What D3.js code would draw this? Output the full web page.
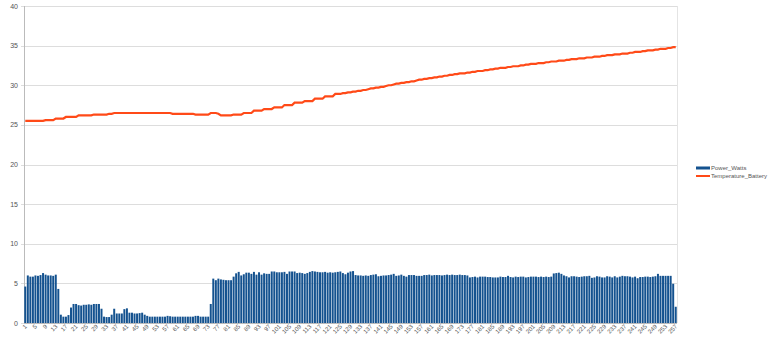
<!doctype html>
<html>
<head>
    <style>
        body {
            margin: 0;
            background: white;
        }

        text {
            font-family: "Liberation Sans", "DejaVu Sans", sans-serif;
            fill: #555;
        }

        .grid line {
            stroke: #ddd;
            shape-rendering: crispEdges;
        }

        .line {
            fill: none;
            stroke: #ff4a18;
            stroke-width: 2.2;
        }
    </style>
    <script src="https://d3js.org/d3.v7.min.js"></script>
</head>
<body>
<script>
    const seriesNames = ['Power_Watts', 'Temperature_Battery']

    const power = [
        4.6, 6.0, 5.85, 5.85, 6.0, 5.95, 6.05, 6.3, 6.1, 6.0,
        6.0, 5.95, 6.1, 4.3, 1.05, 0.8, 0.8, 1.0, 1.95, 2.4,
        2.4, 2.25, 2.2, 2.3, 2.3, 2.35, 2.3, 2.4, 2.4, 2.4,
        1.8, 0.8, 0.75, 0.75, 1.05, 1.8, 1.2, 1.2, 1.2, 1.75,
        1.85, 1.3, 1.3, 1.2, 1.2, 1.25, 1.3, 1.05, 0.9, 0.8,
        0.8, 0.8, 0.8, 0.8, 0.8, 0.8, 0.9, 0.85, 0.8, 0.8,
        0.8, 0.8, 0.8, 0.8, 0.8, 0.8, 0.8, 0.9, 0.9, 0.8,
        0.8, 0.8, 0.8, 2.4, 5.6, 5.4, 5.6, 5.5, 5.45, 5.4,
        5.4, 5.4, 5.85, 6.27, 6.45, 6.0, 6.15, 6.35, 6.35, 6.2,
        6.45, 6.1, 6.4, 6.1, 6.27, 6.2, 6.2, 6.5, 6.5, 6.4,
        6.4, 6.4, 6.45, 6.2, 6.5, 6.5, 6.5, 6.3, 6.35, 6.3,
        6.2, 6.3, 6.45, 6.55, 6.5, 6.45, 6.4, 6.4, 6.45, 6.35,
        6.4, 6.35, 6.4, 6.45, 6.5, 6.3, 6.15, 6.35, 6.5, 6.55,
        6.05, 6.0, 6.0, 5.95, 6.0, 5.95, 6.05, 6.1, 6.15, 5.9,
        5.95, 6.0, 6.0, 6.05, 6.1, 6.2, 5.95, 6.0, 6.1, 5.95,
        5.85, 6.05, 6.05, 6.05, 5.95, 5.95, 5.95, 6.05, 6.05, 6.1,
        6.0, 6.05, 6.05, 6.05, 6.0, 6.05, 6.1, 6.05, 6.1, 6.05,
        6.05, 6.1, 6.05, 6.05, 6.0, 5.75, 5.8, 5.85, 5.75, 5.85,
        5.85, 5.85, 5.8, 5.8, 5.75, 5.75, 5.75, 5.85, 5.8, 5.8,
        5.95, 5.8, 5.75, 5.85, 5.8, 5.85, 5.85, 5.75, 5.8, 5.85,
        5.85, 5.85, 5.8, 5.85, 5.8, 5.85, 5.8, 5.85, 6.25, 6.3,
        6.35, 6.2, 6.0, 5.9, 5.75, 5.9, 5.9, 5.85, 5.8, 5.85,
        5.9, 5.9, 5.95, 5.7, 5.75, 5.9, 5.85, 5.75, 5.75, 5.9,
        5.85, 5.75, 5.9, 5.75, 5.85, 5.95, 5.9, 5.9, 5.85, 5.75,
        5.85, 5.65, 5.8, 5.8, 5.85, 5.85, 5.8, 5.85, 5.9, 6.2,
        5.95, 5.95, 5.95, 5.95, 5.95, 4.95, 2.05
    ]

    const temperature = [
        25.5, 25.5, 25.5, 25.5, 25.5, 25.5, 25.5, 25.5, 25.6, 25.6,
        25.6, 25.6, 25.8, 25.8, 25.8, 25.8, 26.0, 26.0, 26.0, 26.0,
        26.0, 26.2, 26.2, 26.2, 26.2, 26.2, 26.2, 26.3, 26.3, 26.3,
        26.3, 26.3, 26.3, 26.4, 26.4, 26.5, 26.5, 26.5, 26.5, 26.5,
        26.5, 26.5, 26.5, 26.5, 26.5, 26.5, 26.5, 26.5, 26.5, 26.5,
        26.5, 26.5, 26.5, 26.5, 26.5, 26.5, 26.5, 26.5, 26.4, 26.4,
        26.4, 26.4, 26.4, 26.4, 26.4, 26.4, 26.4, 26.3, 26.3, 26.3,
        26.3, 26.3, 26.3, 26.5, 26.5, 26.5, 26.4, 26.2, 26.2, 26.2,
        26.2, 26.2, 26.3, 26.3, 26.3, 26.3, 26.5, 26.5, 26.5, 26.5,
        26.8, 26.8, 26.8, 26.8, 27.0, 27.0, 27.0, 27.0, 27.2, 27.2,
        27.2, 27.2, 27.5, 27.5, 27.5, 27.5, 27.8, 27.8, 27.8, 27.8,
        28.0, 28.0, 28.0, 28.0, 28.3, 28.3, 28.3, 28.3, 28.6, 28.6,
        28.6, 28.6, 28.9, 28.9, 28.9, 29.0, 29.0, 29.1, 29.1, 29.2,
        29.2, 29.3, 29.3, 29.4, 29.4, 29.5, 29.6, 29.6, 29.7, 29.7,
        29.8, 29.8, 29.9, 30.0, 30.0, 30.1, 30.2, 30.2, 30.3, 30.3,
        30.4, 30.4, 30.5, 30.5, 30.6, 30.7, 30.7, 30.8, 30.8, 30.9,
        30.9, 31.0, 31.0, 31.1, 31.1, 31.2, 31.2, 31.3, 31.3, 31.4,
        31.4, 31.5, 31.5, 31.5, 31.6, 31.6, 31.7, 31.7, 31.8, 31.8,
        31.8, 31.9, 31.9, 32.0, 32.0, 32.1, 32.1, 32.2, 32.2, 32.2,
        32.3, 32.3, 32.4, 32.4, 32.4, 32.5, 32.5, 32.6, 32.6, 32.7,
        32.7, 32.7, 32.8, 32.8, 32.8, 32.9, 32.9, 33.0, 33.0, 33.0,
        33.1, 33.1, 33.1, 33.2, 33.2, 33.3, 33.3, 33.3, 33.4, 33.4,
        33.4, 33.5, 33.5, 33.5, 33.6, 33.6, 33.6, 33.7, 33.7, 33.8,
        33.8, 33.8, 33.9, 33.9, 33.9, 34.0, 34.0, 34.0, 34.1, 34.1,
        34.2, 34.2, 34.2, 34.3, 34.3, 34.4, 34.4, 34.4, 34.5, 34.5,
        34.6, 34.6, 34.6, 34.7, 34.7, 34.8, 34.8
    ]

    // categories are just the sample index 1..n
    const categories = power.map((d, i) => i + 1)
    const yTicks = [0, 5, 10, 15, 20, 25, 30, 35, 40]

    const W = 768, H = 339
    const m = {left: 24, right: 91, top: 6, bottom: 16}

    const svg = d3.select('body').append('svg')
        .attr('width', W)
        .attr('height', H)

    const x = d3.scaleBand()
        .domain(categories)
        .range([m.left, W - m.right])
        .paddingInner(0.22)
        .paddingOuter(0.11)

    const y = d3.scaleLinear()
        .domain([0, 40])
        .range([H - m.bottom, m.top])

    // grid
    svg.append('g').attr('class', 'grid')
        .selectAll('line').data(yTicks).enter()
        .append('line')
        .attr('x1', m.left - 3)
        .attr('x2', W - m.right)
        .attr('y1', d => Math.round(y(d)) + 0.5)
        .attr('y2', d => Math.round(y(d)) + 0.5)

    // frame left / right
    svg.append('line')
        .attr('x1', m.left + 0.5).attr('x2', m.left + 0.5)
        .attr('y1', m.top).attr('y2', H - m.bottom)
        .style('stroke', '#bbb')
    svg.append('line')
        .attr('x1', W - m.right + 0.5).attr('x2', W - m.right + 0.5)
        .attr('y1', m.top).attr('y2', H - m.bottom)
        .style('stroke', '#e4e4e4')

    // y labels
    svg.append('g')
        .selectAll('text').data(yTicks).enter()
        .append('text')
        .attr('x', m.left - 6)
        .attr('y', d => y(d) + 2.5)
        .attr('text-anchor', 'end')
        .style('font-size', '7px')
        .text(d => d)

    // bars
    svg.append('g')
        .selectAll('rect').data(power).enter()
        .append('rect')
        .attr('x', (d, i) => x(categories[i]))
        .attr('width', x.bandwidth())
        .attr('y', d => y(d))
        .attr('height', d => y(0) - y(d))
        .attr('fill', '#14528f')

    // baseline
    svg.append('line')
        .attr('x1', m.left).attr('x2', W - m.right)
        .attr('y1', Math.round(y(0)) + 0.5).attr('y2', Math.round(y(0)) + 0.5)
        .style('stroke', '#bbb')

    // temperature line
    const line = d3.line()
        .x((d, i) => x(categories[i]) + x.bandwidth() / 2)
        .y(d => y(d))

    svg.append('path')
        .datum(temperature)
        .attr('class', 'line')
        .attr('d', line)

    // x labels, every 4th
    svg.append('g')
        .selectAll('text').data(categories.filter((c, i) => i % 4 === 0)).enter()
        .append('text')
        .attr('transform', d => `translate(${x(d) + x.bandwidth() / 2 + 2},${H - m.bottom + 4}) rotate(-45)`)
        .attr('text-anchor', 'end')
        .style('font-size', '6px')
        .text(d => d)

    // legend
    const lg = svg.append('g').attr('transform', 'translate(696,168)')
    lg.append('rect')
        .attr('x', 0).attr('y', -1.5)
        .attr('width', 14).attr('height', 3)
        .attr('fill', '#14528f')
    lg.append('line')
        .attr('x1', 0).attr('x2', 14)
        .attr('y1', 8).attr('y2', 8)
        .style('stroke', '#ff4a18')
        .style('stroke-width', 2)
    lg.selectAll('text').data(seriesNames).enter()
        .append('text')
        .attr('x', 15)
        .attr('y', (d, i) => i * 8 + 2)
        .style('font-size', '6px')
        .text(d => d)
</script>
</body>
</html>
